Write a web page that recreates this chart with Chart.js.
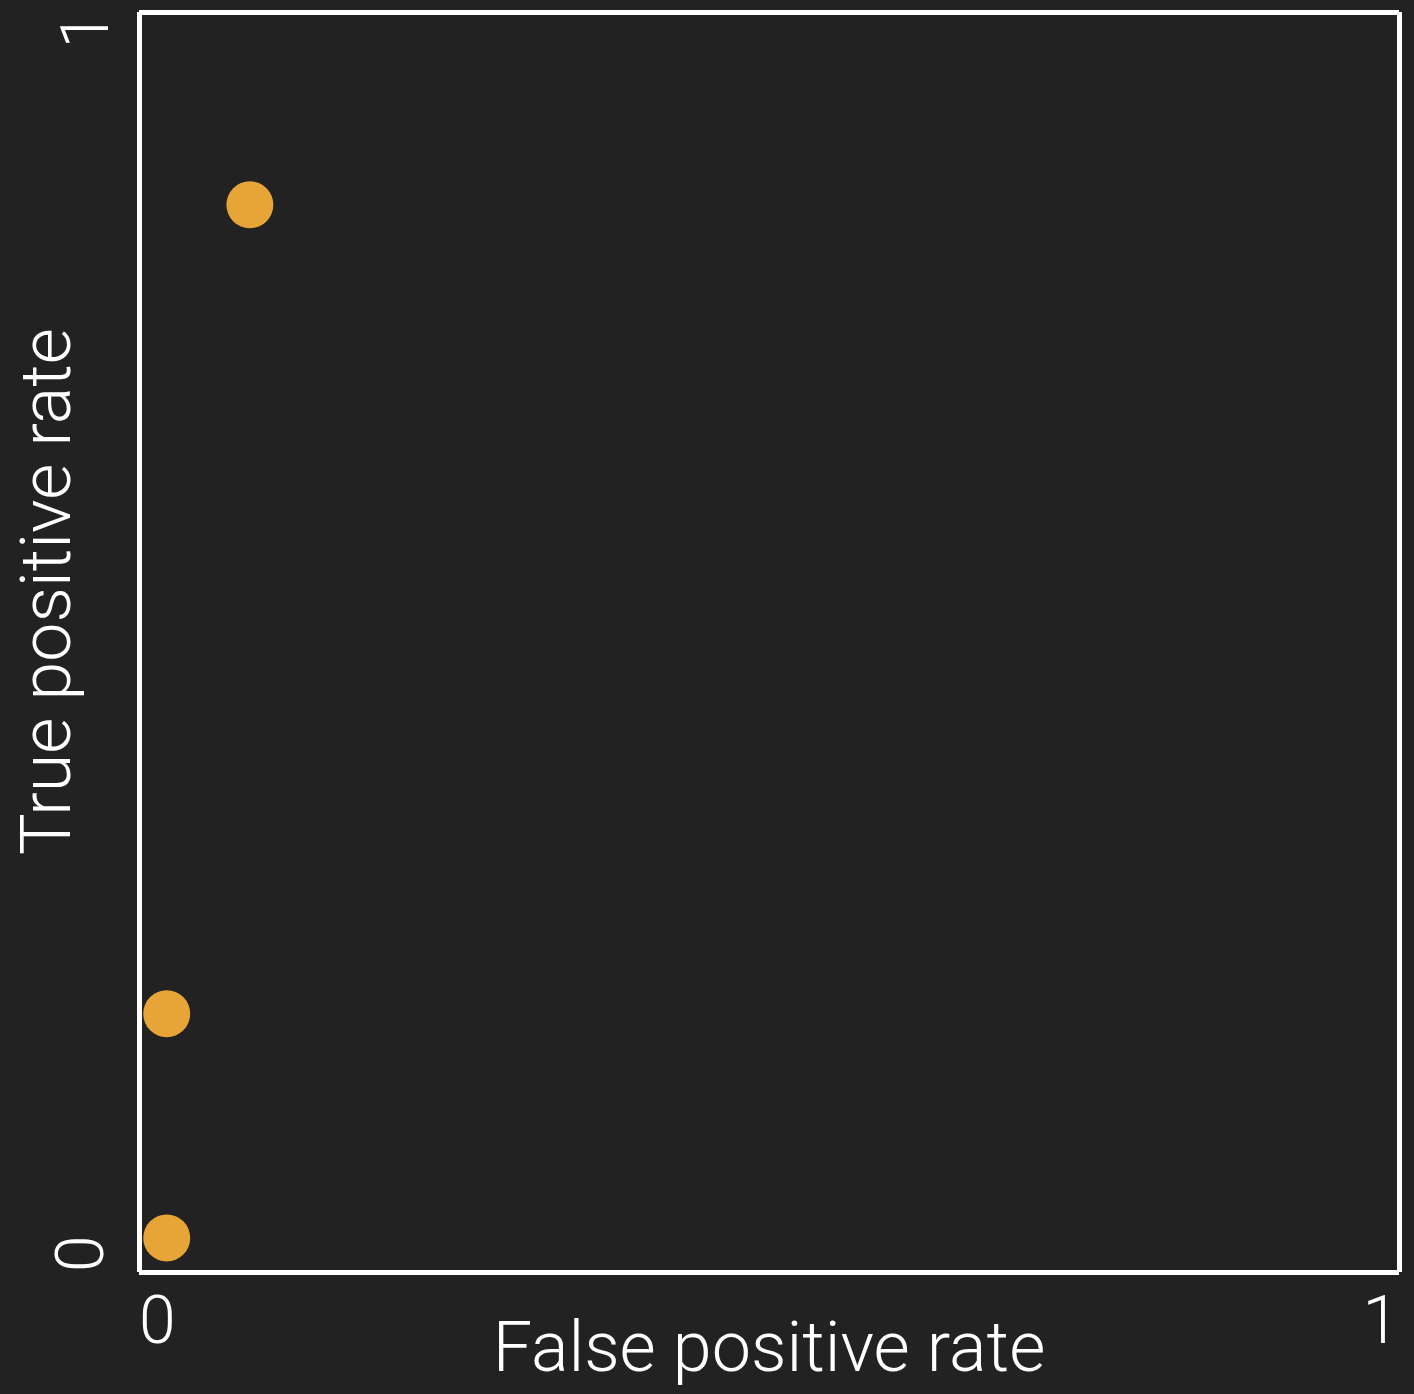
<!DOCTYPE html>
<html>
<head>
<meta charset="utf-8">
<style>
  html, body { margin: 0; padding: 0; background: #222222; }
  canvas { display: block; }
</style>
<script src="https://cdn.jsdelivr.net/npm/chart.js@4"></script>
</head>
<body>
<canvas id="rocChart" width="1414" height="1394"></canvas>
<script>
// ROC points
const falsePositiveRate = [0.022, 0.022, 0.088];
const truePositiveRate = [0.027, 0.205, 0.847];
const tickValues = [0, 1];
const tickLabels = ['0', '1'];
const yTitle = 'True positive rate';

const fontFamily = 'Roboto, "Helvetica Neue", Arial, sans-serif';

// y tick labels and the y title are rotated, so draw them by hand at the scale's pixels
const rotatedYText = {
    id: 'rotatedYText',
    afterDraw(chart) {
        const ctx = chart.ctx;
        const yScale = chart.scales.y;
        ctx.save();
        ctx.fillStyle = '#ffffff';
        ctx.textBaseline = 'middle';
        ctx.font = '300 66px ' + fontFamily;
        const tickX = [86, 91];
        tickValues.forEach(function(v, i) {
            ctx.save();
            ctx.translate(tickX[i], yScale.getPixelForValue(v));
            ctx.rotate(-Math.PI / 2);
            ctx.textAlign = i === 0 ? 'left' : 'right';
            ctx.fillText(tickLabels[i], 0, 0);
            ctx.restore();
        });
        // title sits a little above the middle of the axis
        ctx.font = '300 70px ' + fontFamily;
        ctx.translate(52, yScale.getPixelForValue(0.54));
        ctx.rotate(-Math.PI / 2);
        ctx.textAlign = 'center';
        ctx.fillText(yTitle, 0, 0);
        ctx.restore();
    }
};

const points = falsePositiveRate.map(function(x, i) {
    return { x: x, y: truePositiveRate[i] };
});

new Chart(document.getElementById('rocChart'), {
    type: 'scatter',
    data: {
        datasets: [{
            data: points,
            backgroundColor: '#E8A537',
            borderWidth: 0,
            pointRadius: 23.5,
            pointHoverRadius: 23.5
        }]
    },
    options: {
        responsive: false,
        animation: false,
        layout: { autoPadding: false, padding: { top: 12, right: 15, left: 0, bottom: 0 } },
        plugins: {
            legend: { display: false },
            tooltip: { enabled: false }
        },
        scales: {
            x: {
                type: 'linear',
                min: 0,
                max: 1,
                afterBuildTicks: function(scale) {
                    scale.ticks = tickValues.map(function(v) { return { value: v }; });
                },
                afterFit: function(scale) {
                    scale.height = 122;
                    scale.paddingLeft = 0;
                    scale.paddingRight = 0;
                },
                grid: { color: '#ffffff', lineWidth: 5, drawTicks: false },
                border: { display: false },
                ticks: {
                    color: '#ffffff',
                    align: 'inner',
                    padding: 21,
                    maxRotation: 0,
                    font: { family: fontFamily, size: 66, weight: 300, lineHeight: 1 },
                    callback: function(v) { return tickLabels[tickValues.indexOf(v)]; }
                },
                title: {
                    display: true,
                    text: 'False positive rate',
                    color: '#ffffff',
                    padding: { top: 0, bottom: 6 },
                    font: { family: fontFamily, size: 70, weight: 300, lineHeight: 1 }
                }
            },
            y: {
                type: 'linear',
                min: 0,
                max: 1,
                afterBuildTicks: function(scale) {
                    scale.ticks = tickValues.map(function(v) { return { value: v }; });
                },
                afterFit: function(scale) {
                    scale.width = 139;
                    scale.paddingTop = 0;
                    scale.paddingBottom = 0;
                },
                grid: { color: '#ffffff', lineWidth: 5, drawTicks: false },
                border: { display: false },
                ticks: { display: false, padding: 0 },
                title: { display: false }
            }
        }
    },
    plugins: [rotatedYText]
});
</script>
</body>
</html>
